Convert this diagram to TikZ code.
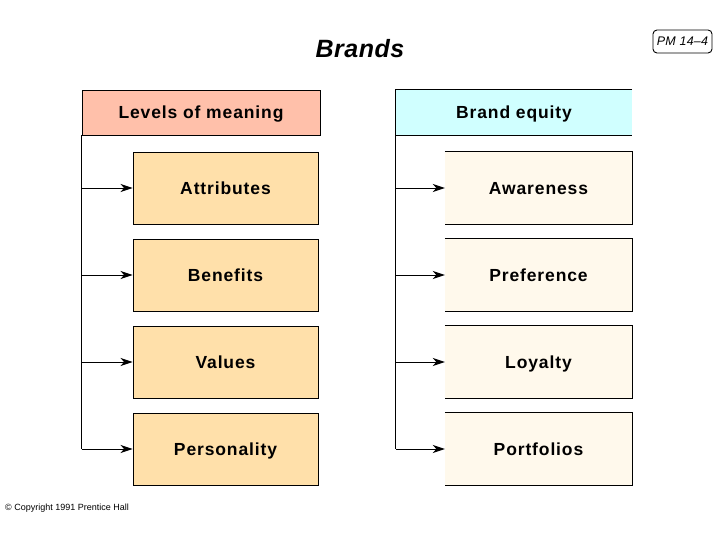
\documentclass[tikz,border=0pt]{standalone}
\usepackage{fontspec}
\setmainfont{Liberation Sans}
\newfontfamily\labfont[LetterSpace=5]{Liberation Sans}
\newfontfamily\titfont[LetterSpace=2]{Liberation Sans}
\newfontfamily\pmfont[LetterSpace=2]{Liberation Sans}
\usetikzlibrary{arrows.meta}
\definecolor{salmon}{RGB}{255,192,170}
\definecolor{tan}{RGB}{255,224,170}
\definecolor{lcyan}{RGB}{208,255,255}
\definecolor{cream}{RGB}{255,249,236}
\begin{document}
\begin{tikzpicture}[x=1pt,y=-1pt,
  lw/.style={line width=0.9pt},
  lab/.style={font=\labfont\bfseries\fontsize{17.5}{20}\selectfont, inner sep=0pt, text height=14pt, text depth=1pt},
  lhead/.style={lab, draw, lw, fill=salmon, minimum width=238pt, minimum height=45pt},
  rhead/.style={lab, fill=lcyan, minimum width=236pt, minimum height=45pt},
  lbox/.style={lab, draw, lw, fill=tan, minimum width=185pt, minimum height=72pt},
  rbox/.style={lab, fill=cream, minimum width=187pt, minimum height=72pt},
  arr/.style={lw, -{Stealth[length=12pt,width=8pt,inset=3.5pt]}},
  edge/.style={lw}]
\useasboundingbox (0,0) rectangle (720,540);

% title
\node[font=\titfont\bfseries\itshape\fontsize{25}{29}\selectfont, inner sep=0pt] (title) at (360,49) {Brands};
\node[draw, lw, rounded corners=4pt, minimum width=59pt, minimum height=23pt, inner sep=0pt,
  font=\pmfont\itshape\fontsize{12.5}{14}\selectfont] (pm) at (682.5,41.5) {PM 14–4};
\node[anchor=west, inner sep=0pt, font=\fontsize{9}{11}\selectfont] (copy) at (5,508) {\textcopyright\ Copyright 1991 Prentice Hall};

% left column
\node[lhead] (lh) at (201,112.5) {Levels of meaning};
\node[lbox] (a1) at (225.5,188) {Attributes};
\node[lbox] (a2) at (225.5,275) {Benefits};
\node[lbox] (a3) at (225.5,362) {Values};
\node[lbox] (a4) at (225.5,449) {Personality};
\draw[edge] (lh.south west) -- (a4.west -| lh.south west);
\foreach \n in {a1,a2,a3,a4}{
  \draw[arr] (\n.west -| lh.south west) -- (\n.west);
}

% right column
\node[rhead] (rh) at (514,112.5) {Brand equity};
\draw[edge] (rh.north east) -- (rh.north west) -- (rh.south west) -- (rh.south east);
\node[rbox] (b1) at (538.5,188) {Awareness};
\node[rbox] (b2) at (538.5,275) {Preference};
\node[rbox] (b3) at (538.5,362) {Loyalty};
\node[rbox] (b4) at (538.5,449) {Portfolios};
\foreach \n in {b1,b2,b3,b4}{
  \draw[edge] (\n.north west) -- (\n.north east) -- (\n.south east) -- (\n.south west);
}
\draw[edge] (rh.south west) -- (b4.west -| rh.south west);
\foreach \n in {b1,b2,b3,b4}{
  \draw[arr] (\n.west -| rh.south west) -- (\n.west);
}
\end{tikzpicture}
\end{document}
